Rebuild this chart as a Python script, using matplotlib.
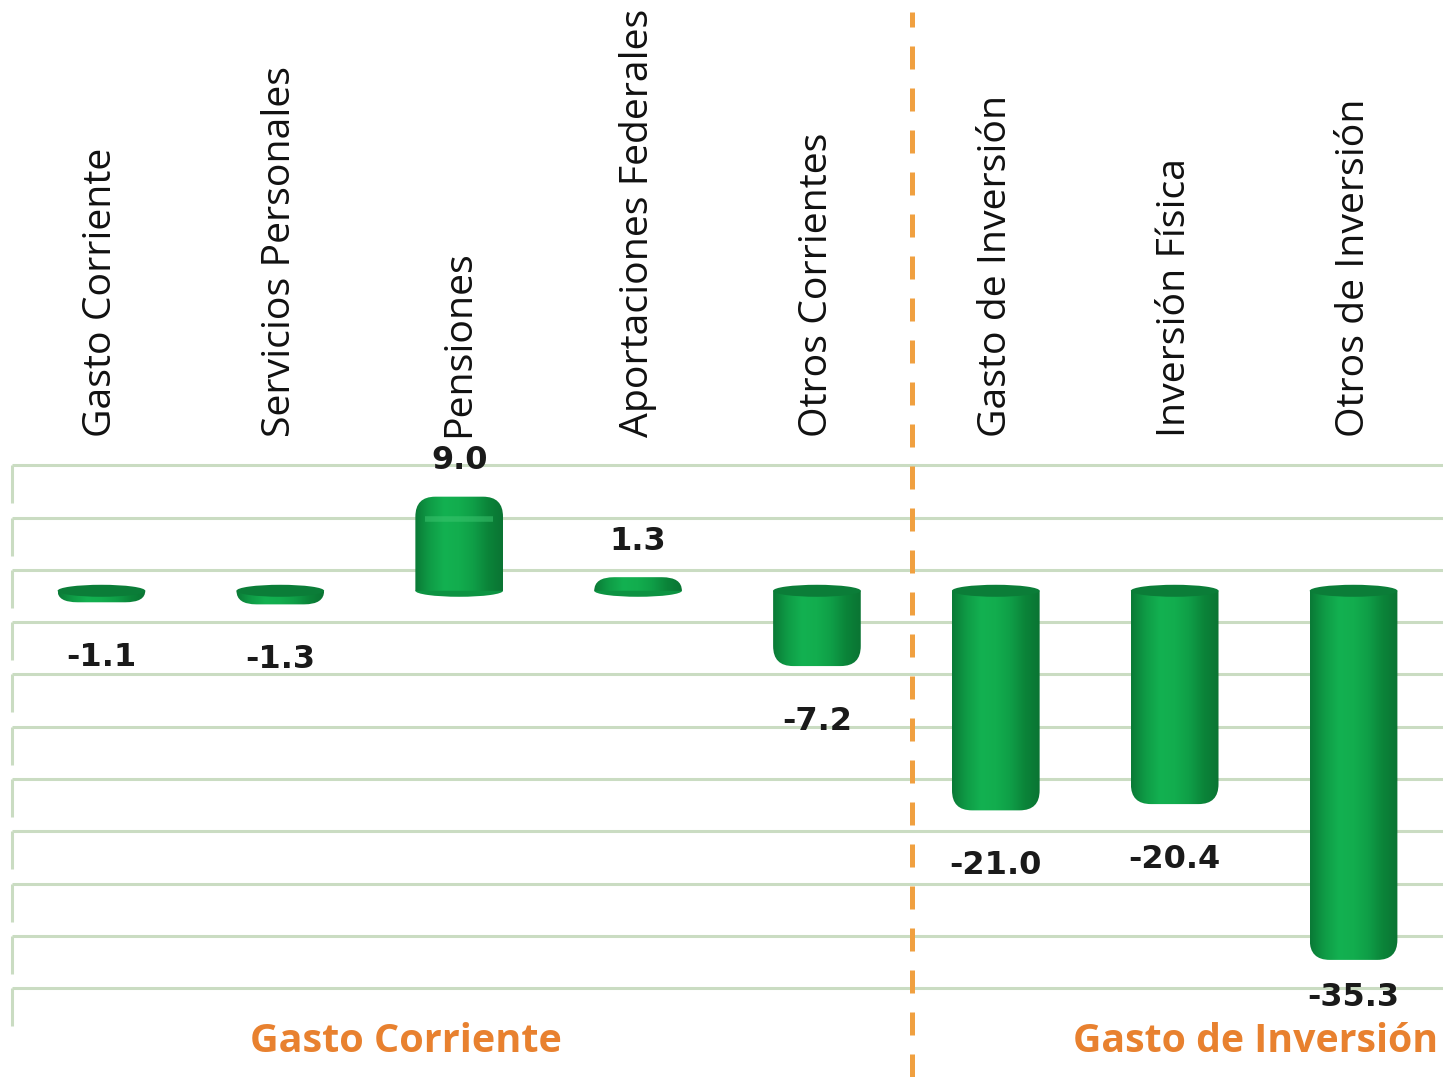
import matplotlib
matplotlib.use("Agg")
import matplotlib.pyplot as plt
import numpy as np
from matplotlib.path import Path
from matplotlib.patches import PathPatch, Ellipse
from matplotlib.colors import LinearSegmentedColormap

categories = [
    "Gasto Corriente", "Servicios Personales", "Pensiones",
    "Aportaciones Federales", "Otros Corrientes",
    "Gasto de Inversión", "Inversión Física", "Otros de Inversión",
]
values = [-1.1, -1.3, 9.0, 1.3, -7.2, -21.0, -20.4, -35.3]
groups = ["Gasto Corriente", "Gasto de Inversión"]
grid_levels = [12, 7, 2, -3, -8, -13, -18, -23, -28, -33, -38]

W, H = 1443, 1077
fig = plt.figure(figsize=(W / 100, H / 100), dpi=100)
ax = fig.add_axes([12 / W, 0, 1 - 12 / W, 1])
ax.set_xlim(-0.5, len(categories) - 0.5)
ax.set_ylim(-46.5, 56.5)
ax.axis("off")

# px per data unit
px_x = (W - 12) / len(categories)
px_y = H / 103.0

grid_col = "#cadcc2"
for g in grid_levels:
    ax.hlines(g, -0.5, len(categories) - 0.5, color=grid_col, lw=2.2, zorder=1)
    ax.vlines(-0.5, g - 38 / px_y, g, color=grid_col, lw=2.2, zorder=1, clip_on=False)

green = LinearSegmentedColormap.from_list(
    "cyl", ["#0a7a36", "#0f9c46", "#13b151", "#12ad4e", "#0f9e47", "#0b8439", "#0a7433"])
grad = np.linspace(0, 1, 200).reshape(1, -1)

bw = 0.49
bars = ax.bar(range(len(values)), values, width=bw, color="none", zorder=2)


def rounded_bar(x0, x1, y0, y1, rx, ry):
    # flat at y0 (zero), rounded corners at the y1 end
    s = 1 if y1 > y0 else -1
    ry = min(ry, abs(y1 - y0))
    verts = [(x0, y0), (x0, y1 - s * ry), (x0, y1), (x0 + rx, y1),
             (x1 - rx, y1), (x1, y1), (x1, y1 - s * ry), (x1, y0), (x0, y0)]
    codes = [Path.MOVETO, Path.LINETO, Path.CURVE3, Path.CURVE3,
             Path.LINETO, Path.CURVE3, Path.CURVE3, Path.LINETO, Path.CLOSEPOLY]
    return Path(verts, codes)


rx = 20 / px_x
ry = 20 / px_y
cap_h = 12 / px_y
low_limit = -(998 - 591) / px_y
for rect, v in zip(bars, values):
    x0 = rect.get_x()
    bwid = rect.get_width()
    x1 = x0 + bwid
    xc = x0 + bwid / 2
    path = rounded_bar(x0, x1, 0, v, rx, ry)
    patch = PathPatch(path, facecolor="none", edgecolor="none", zorder=3)
    ax.add_patch(patch)
    lo, hi = min(0, v), max(0, v)
    im = ax.imshow(grad, cmap=green, aspect="auto", extent=(x0, x1, lo - 1, hi + 1),
                   zorder=3, interpolation="bicubic")
    im.set_clip_path(patch)
    if v < 0:
        # dark cylinder cap on top
        ax.add_patch(Ellipse((xc, 0), bwid, cap_h, facecolor="#0b7d38",
                             edgecolor="none", zorder=4))
    else:
        # rounded base below the zero line
        ax.add_patch(Ellipse((xc, 0), bwid, cap_h, facecolor="#0d9342",
                             edgecolor="none", zorder=2.5))
        if v > 3:
            ax.hlines(v - 22 / px_y, x0 + rx * 0.5, x1 - rx * 0.5, color="#3ec771",
                      lw=4, alpha=0.5, zorder=4)
    if v > 0:
        ty = v + 36 / px_y
    else:
        ty = max(v - 55 / px_y, low_limit)
    ax.text(xc, ty, f"{v:.1f}", ha="center", va="center", fontsize=23,
            fontweight="bold", color="#1a1a1a", zorder=5)

label_y = (591 - 437) / px_y
for i, c in enumerate(categories):
    ax.text(i, label_y, c, rotation=90, ha="center", va="bottom",
            fontsize=28.3, family="Open Sans", color="#111111")

ax.axvline(4.53, ymax=1 - 12 / H, color="#f0a040", lw=3.6, dashes=(4.6, 3.8), zorder=2)

gy = -(1042 - 591) / px_y
ax.text(1.7, gy, groups[0], ha="center", va="center", fontsize=28.5,
        fontweight="bold", family="Open Sans", color="#e8812f")
ax.text(7.47, gy, groups[1], ha="right", va="center", fontsize=28.3,
        fontweight="bold", family="Open Sans", color="#e8812f")

fig.savefig("out.png", dpi=100)
